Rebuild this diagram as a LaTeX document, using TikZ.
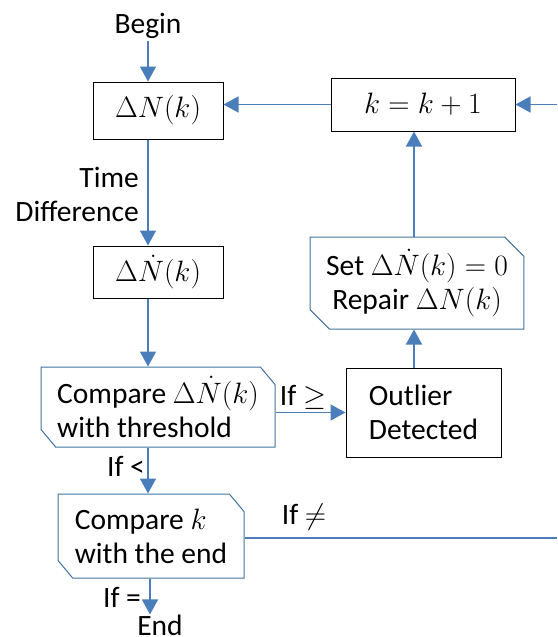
\documentclass[tikz,border=0pt]{standalone}
\usepackage{fix-cm}
\usepackage{fontspec}
\setmainfont{Carlito}
\usetikzlibrary{shapes.misc,arrows.meta}
\definecolor{lineblue}{HTML}{4A7EBB}
\definecolor{boxblue}{HTML}{41719C}
\begin{document}
\begin{tikzpicture}[x=1pt,y=-1pt,
  font=\fontsize{29.5}{34}\selectfont,
  conn/.style={draw=lineblue, line width=1.6pt},
  arr/.style={conn, -{Triangle[width=16pt,length=15pt]}},
  rbox/.style={draw=black, line width=1pt, inner sep=0pt, align=center},
  chbox/.style={chamfered rectangle, chamfered rectangle corners={north east,south west},
    chamfered rectangle xsep=12pt, chamfered rectangle angle=40,
    draw=boxblue, line width=1pt, inner sep=0pt},
  lbl/.style={inner sep=0pt}
]
\useasboundingbox (0,0) rectangle (557,637);

\coordinate (xa) at (148,0);
\coordinate (xb) at (414,0);
\coordinate (xc) at (150,0);
\coordinate (bstart) at (148,41);
\coordinate (rin) at (557,104.5);
\coordinate (rout) at (557,538);

\node[lbl] (begin) at (148,26) {Begin};
\node[rbox, minimum width=130pt, minimum height=57pt] (dN) at (158,110.5) {$\Delta N(k)$};
\node[rbox, minimum width=184pt, minimum height=53pt] (kk) at (423,104.5) {$k=k+1$};
\node[lbl, align=right, anchor=east] (td) at (139,194.5) {Time\\Difference};
\node[rbox, minimum width=130pt, minimum height=52pt] (dNd) at (158,272) {$\Delta\dot N(k)$};
\node[chbox, align=left, minimum width=234pt, minimum height=80pt] (cmp1) at (158,407)
  {Compare $\Delta\dot N(k)$\\with threshold};
\node[rbox, align=left, minimum width=155pt, minimum height=89pt] (out) at (423.5,412.5) {Outlier\\Detected};
\node[chbox, align=center, chamfered rectangle xsep=16pt, chamfered rectangle angle=45,
  minimum width=204pt, minimum height=92pt] (set) at (417,283)
  {Set $\Delta\dot N(k)=0$\\Repair $\Delta N(k)$};
\node[chbox, align=left, minimum width=186pt, minimum height=84pt] (cmp2) at (151,536)
  {Compare $k$\\with the end};
\node[lbl] (end) at (160,625) {End};

\draw[arr] (bstart) -- (dN.north -| xa);
\draw[arr] (kk.west) -- (kk.west -| dN.east);
\draw[arr] (rin) -- (kk.east);
\draw[arr] (dN.south -| xa) -- (dNd.north -| xa);
\draw[arr] (dNd.south -| xa) -- (cmp1.north -| xa);
\draw[arr] (out.west -| cmp1.east) -- (out.west);
\node[lbl] (ifge) at (303,397) {If $\geq$};
\draw[arr] (out.north -| xb) -- (set.south -| xb);
\draw[arr] (set.north -| xb) -- (kk.south -| xb);
\draw[arr] (cmp1.south -| xa) -- (cmp2.north -| xa);
\node[lbl] (iflt) at (126,466) {If <};
\draw[conn] (cmp2.east |- rout) -- (rout);
\node[lbl] (ifne) at (304,517) {If $\neq$};
\draw[arr] (cmp2.south -| xc) -- (end.north -| xc);
\node[lbl] (ifeq) at (122,597) {If =};
\end{tikzpicture}
\end{document}
